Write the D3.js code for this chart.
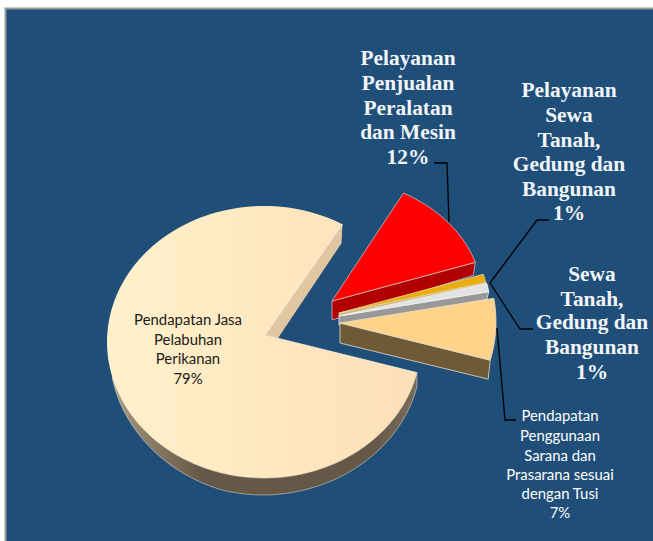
<!DOCTYPE html>
<html>
<head>
<meta charset="utf-8">
<script src="https://cdn.jsdelivr.net/npm/d3@7"></script>
<style>
html,body{margin:0;padding:0;background:#fff}
svg{display:block}
</style>
</head>
<body>
<svg id="chart" width="653" height="541"></svg>
<script>
// ---- data ----
const categories = [
  "Pelayanan Penjualan Peralatan dan Mesin",
  "Pelayanan Sewa Tanah, Gedung dan Bangunan",
  "Sewa Tanah, Gedung dan Bangunan",
  "Pendapatan Penggunaan Sarana dan Prasarana sesuai dengan Tusi",
  "Pendapatan Jasa Pelabuhan Perikanan"
];
const values = [12, 1, 1, 7, 79];
const labelLines = [
  ["Pelayanan","Penjualan","Peralatan","dan Mesin","12%"],
  ["Pelayanan","Sewa","Tanah,","Gedung dan","Bangunan","1%"],
  ["Sewa","Tanah,","Gedung dan","Bangunan","1%"],
  ["Pendapatan","Penggunaan","Sarana dan","Prasarana sesuai","dengan Tusi","7%"],
  ["Pendapatan Jasa","Pelabuhan","Perikanan","79%"]
];

// ---- layout and style ----
const W = 653, H = 541;
const RX = 157;
const toRad = Math.PI / 180;
const slicesLayout = [
  {cx:325, cy:297, ry:120, ax:332, ay:301, d0:19, d1:13, top:"#ff0000", side:"#b00000", edge:"#d9b9b9"},
  {cx:333, cy:313, ry:134, ax:339, ay:313, d0:3,  d1:3,  top:"#e9ae0e", side:"#cdb67c", edge:"#e8d8a8"},
  {cx:334, cy:314, ry:134, ax:339, ay:316, d0:9,  d1:8,  top:"#e2e2e2", side:"#989898", edge:"#f4f4f4"},
  {cx:339, cy:322, ry:142, ax:340, ay:323, d0:20, d1:19, top:"#ffd38a", side:"#6f5a38", edge:"#e6dcc8"},
  {cx:264, cy:342, ry:136, ax:265, ay:335, d0:17, d1:14, top:"url(#mainFace)", side:"url(#mainRim)", edge:"#f5ead6", tipNudge:-2.6}
];
const labelPos = [
  {x:408, ys:[65,90,115,139,164], serif:true},
  {x:569, ys:[97,122,147,171,196,220], serif:true},
  {x:592, ys:[281,306,329,354,379], serif:true},
  {x:560, ys:[421,441,461,480,499,518], serif:false, fill:"#ffffff"},
  {x:188, ys:[325,345,364,384], serif:false, fill:"#1a1a1a"}
];
const leaders = [
  [[434,163],[447,163],[449,222]],
  [[549,220],[537,220],[490,283]],
  [[490,283],[520,329],[533,329]],
  [[497,328],[505,420],[516,420]]
];

const svg = d3.select("#chart");
const defs = svg.append("defs");
function grad(id, x1, x2, stops){
  const g = defs.append("linearGradient").attr("id",id)
    .attr("gradientUnits","userSpaceOnUse")
    .attr("x1",x1).attr("x2",x2).attr("y1",0).attr("y2",0);
  stops.forEach(s => g.append("stop").attr("offset",s[0]).attr("stop-color",s[1]));
}
grad("mainFace",107,420,[[0,"#fff1cc"],[0.45,"#ffe9c1"],[1,"#fddfb8"]]);
grad("mainRim",107,420,[[0,"#b0a08a"],[0.1,"#94856f"],[0.3,"#665846"],[0.85,"#665846"],[1,"#7a6e5e"]]);

// panel
svg.append("rect").attr("x",5.5).attr("y",8.5).attr("width",W+10).attr("height",H+10)
  .attr("fill","#1f4e79").attr("stroke","#9a9a9a").attr("stroke-width",2);

// angles: clockwise from 12 o'clock, first slice begins at 30 degrees
const pie = d3.pie().sort(null).value(d => d).startAngle(30*toRad).endAngle(390*toRad);
const arcs = pie(values);
const line = d3.line();

function onEllipse(s, a, dy){
  return [s.cx + RX*Math.sin(a), s.cy - s.ry*Math.cos(a) + (dy||0)];
}
function sample(a0, a1, n){
  return d3.range(n+1).map(i => a0 + (a1-a0)*i/n);
}

// order: large slice first, then from back to front
const order = [4,0,1,2,3];
const g = svg.append("g");

order.forEach(i => {
  const s = slicesLayout[i], a = arcs[i];
  const a0 = a.startAngle + (s.tipNudge||0)*toRad;
  const n = Math.max(6, Math.round((a.endAngle-a0)/toRad/2));
  const angs = sample(a0, a.endAngle, n);
  const top = angs.map(t => onEllipse(s,t));
  const st = {stroke:s.edge,"stroke-width":0.8,"stroke-linejoin":"round"};
  const add = (pts,fill) => {
    const p = g.append("path").attr("d",line(pts)+"Z").attr("fill",fill);
    Object.entries(st).forEach(([k,v]) => p.attr(k,v));
    return p;
  };
  const apex = [s.ax,s.ay];
  if(i===4){
    // outer rim, visible on the near half, tapering out toward the left
    const rimAngs = sample(a0, 255*toRad, 80);
    const depth = t => {
      const rise = s.d1 + (s.d0-s.d1)*Math.min(1,(t-a0)/(75*toRad));
      const fade = t < 195*toRad ? 1 : Math.max(0,(255*toRad-t)/(60*toRad));
      return rise*Math.sqrt(fade);
    };
    const rimTop = rimAngs.map(t => onEllipse(s,t));
    const rimBot = rimAngs.map(t => onEllipse(s,t,depth(t))).reverse();
    add(rimTop.concat(rimBot), s.side).attr("stroke-width",0.5);
    add(top.concat([apex]), s.top).attr("stroke","none");
    // cut face seen at the far end of the gap
    const corner = top[top.length-1], tip = top[0];
    const foot = [apex[0]+(tip[0]-apex[0])*0.085, apex[1]+(tip[1]-apex[1])*0.085];
    add([corner,[corner[0]-1,corner[1]+19],foot,apex], "#e0c7a1").attr("stroke","none");
    g.append("path").attr("d",line([corner,apex])).attr("stroke","#fff6e4").attr("stroke-width",0.9).attr("fill","none");
    g.append("path").attr("d",line([apex,tip])).attr("stroke","#fff6e4").attr("stroke-width",0.6).attr("fill","none");
  } else {
    // front cut face along the slice's end edge
    const end = top[top.length-1];
    const frontPts = [apex,end,[end[0]-2,end[1]+s.d1],[apex[0],apex[1]+s.d0]];
    add(frontPts, s.side);
    add(top.concat([apex]), s.top);
  }
});

// leader lines
leaders.forEach(l => {
  svg.append("path").attr("d",line(l)).attr("fill","none").attr("stroke","#000").attr("stroke-width",1.3);
});

// labels
labelLines.forEach((lines,i) => {
  const p = labelPos[i];
  const t = svg.append("text").attr("text-anchor","middle")
    .attr("font-family", p.serif ? "'Liberation Serif',serif" : "Lato,sans-serif")
    .attr("font-size", p.serif ? 21.4 : 14.9)
    .attr("font-weight", p.serif ? 700 : 400)
    .attr("fill", p.serif ? "#f2f5f8" : p.fill);
  lines.forEach((txt,j) => t.append("tspan").attr("x",p.x).attr("y",p.ys[j]).text(txt));
});
</script>
</body>
</html>
